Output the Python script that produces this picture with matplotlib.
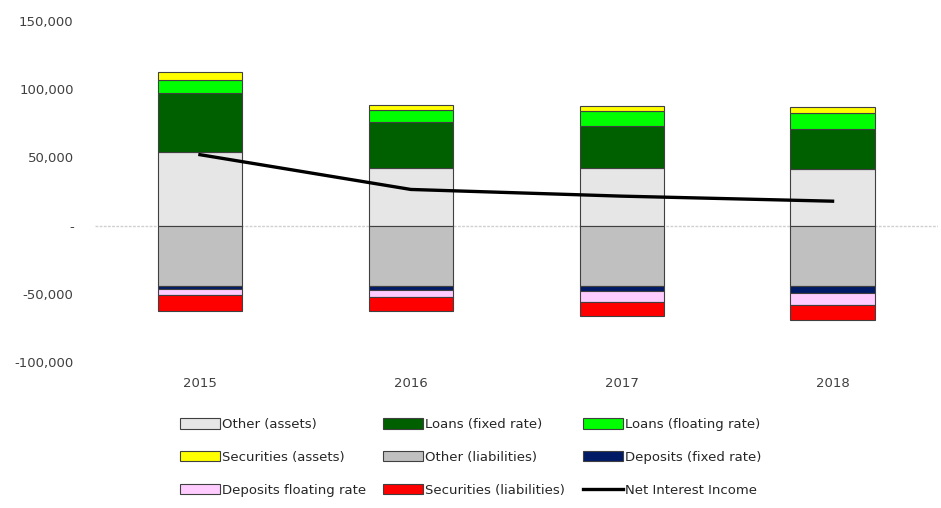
import matplotlib
matplotlib.use("Agg")
import matplotlib.pyplot as plt
import numpy as np
from matplotlib.patches import Patch
from matplotlib.lines import Line2D
from matplotlib.ticker import FuncFormatter

years = ["2015", "2016", "2017", "2018"]
other_assets = [54000, 42300, 42100, 41600]
loans_fixed = [43000, 33400, 30700, 29300]
loans_floating = [10000, 8800, 11000, 12000]
securities_assets = [5300, 4200, 3900, 4100]
other_liabilities = [-44000, -44000, -44300, -44300]
deposits_fixed = [-2200, -3400, -3900, -5300]
deposits_floating = [-4800, -4700, -7800, -8600]
securities_liabilities = [-11300, -10200, -10200, -11000]
net_interest_income = [52000, 26500, 21600, 17900]

pos_series = [
    ("Other (assets)", other_assets, "#e6e6e6"),
    ("Loans (fixed rate)", loans_fixed, "#006000"),
    ("Loans (floating rate)", loans_floating, "#00ff00"),
    ("Securities (assets)", securities_assets, "#ffff00"),
]
neg_series = [
    ("Other (liabilities)", other_liabilities, "#c0c0c0"),
    ("Deposits (fixed rate)", deposits_fixed, "#001a66"),
    ("Deposits floating rate", deposits_floating, "#ffccff"),
    ("Securities (liabilities)", securities_liabilities, "#ff0000"),
]

fig = plt.figure(figsize=(9.41, 5.08), dpi=100)
ax = fig.add_axes([94.5/941, 1 - 362/508, (938-94.5)/941, (362-21)/508])

x = np.arange(len(years))
w = 0.4
edge = "#404040"
handles = {}
bottom = np.zeros(len(years))
for name, vals, col in pos_series:
    v = np.array(vals, float)
    ax.bar(x, v, w, bottom=bottom, color=col, edgecolor=edge, linewidth=0.8, zorder=2)
    bottom += v
    handles[name] = Patch(facecolor=col, edgecolor=edge, linewidth=0.8)
bottom = np.zeros(len(years))
for name, vals, col in neg_series:
    v = np.array(vals, float)
    ax.bar(x, v, w, bottom=bottom, color=col, edgecolor=edge, linewidth=0.8, zorder=2)
    bottom += v
    handles[name] = Patch(facecolor=col, edgecolor=edge, linewidth=0.8)

ax.plot(x, net_interest_income, color="black", linewidth=2.4, zorder=4)
handles["Net Interest Income"] = Line2D([0], [0], color="black", linewidth=2.4)

ax.axhline(0, color="#d0d0d0", linewidth=1.0, linestyle=(0, (2, 1)), zorder=1)

ax.set_xlim(-0.5, 3.5)
ax.set_ylim(-100000, 150000)
ax.set_yticks([-100000, -50000, 0, 50000, 100000, 150000])
ax.yaxis.set_major_formatter(FuncFormatter(lambda v, p: "-" if v == 0 else f"{int(v):,}"))
ax.set_xticks(x)
ax.set_xticklabels(years)
for s in ax.spines.values():
    s.set_visible(False)
ax.tick_params(axis="y", length=0, pad=15, labelsize=9.5, labelcolor="#404040")
ax.tick_params(axis="x", length=0, pad=11, labelsize=9.5, labelcolor="#404040")

cols = [
    ["Other (assets)", "Securities (assets)", "Deposits floating rate"],
    ["Loans (fixed rate)", "Other (liabilities)", "Securities (liabilities)"],
    ["Loans (floating rate)", "Deposits (fixed rate)", "Net Interest Income"],
]
xs = [180, 383, 583]
for cx, names in zip(xs, cols):
    fig.legend([handles[n] for n in names], names, loc="upper left",
               bbox_to_anchor=(cx/941, 1 - 418/508), frameon=False,
               fontsize=9.5, handlelength=3.0, handleheight=0.85,
               handletextpad=0.2, labelspacing=1.5, borderpad=0,
               borderaxespad=0, labelcolor="#262626")

fig.savefig("out.png", dpi=100)
